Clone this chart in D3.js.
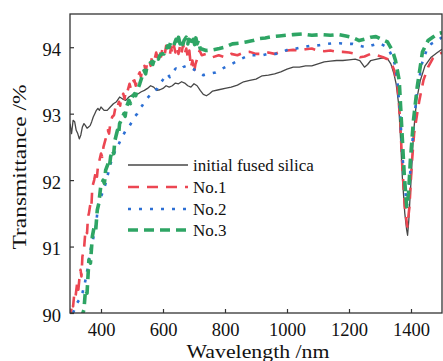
<!DOCTYPE html>
<html><head><meta charset="utf-8">
<script src="https://cdn.jsdelivr.net/npm/d3@7"></script>
<style>html,body{margin:0;padding:0;background:#fff;}svg{display:block;}</style>
</head><body><div id="chart"></div>
<script>
// ---------- data ----------
const seriesNames = ["initial fused silica", "No.1", "No.2", "No.3"];
const xTicks = [400, 600, 800, 1000, 1200, 1400];
const yTicks = [90, 91, 92, 93, 94];

const wlBase = [300,305,310,315,320,325,330,335,340,345,350,355,360,365,370,375,380,385,390,395,400,410,420,430,440,450,460,470,480,490,500,510,520,530,540,550,560,570,580,590,600,610,620,630,640,650,660,670,680,690,700,710,720,730,740,750,760,780,800,820,840,860,880,900,920,940,960,980,1000,1020,1040,1060,1080,1100,1120,1140,1160,1180,1200,1220,1235,1250,1260,1270,1290,1310,1325,1335,1345,1352,1360,1366,1372,1380,1386,1389,1393,1397,1401,1408,1418,1430,1445,1465,1485,1500];
const tBase = [92.85,92.7,92.9,92.88,92.75,92.7,92.62,92.68,92.8,92.85,92.82,92.78,92.8,92.82,92.88,92.95,93.0,93.05,93.08,93.05,93.1,93.05,93.05,93.1,93.15,93.18,93.25,93.22,93.2,93.25,93.28,93.27,93.3,93.33,93.35,93.38,93.42,93.4,93.35,93.36,93.38,93.42,93.4,93.42,93.46,93.45,93.48,93.46,93.42,93.4,93.45,93.42,93.35,93.29,93.27,93.3,93.34,93.36,93.38,93.4,93.43,93.48,93.5,93.52,93.57,93.58,93.6,93.63,93.67,93.7,93.7,93.72,93.72,93.75,93.78,93.79,93.8,93.8,93.81,93.82,93.8,93.7,93.74,93.8,93.82,93.84,93.82,93.75,93.6,93.45,93.15,92.65,92.05,91.5,91.25,91.17,91.4,91.75,92.05,92.7,93.2,93.5,93.72,93.85,93.92,93.97];

const wl1 = [302,306,310,314,318,323,327,330,334,337,340,345,350,355,358,361,366,369,372,378,384,387,390,395,400,404,408,415,422,426,430,436,442,446,450,458,462,465,472,476,480,485,492,496,500,508,512,517,525,529,533,540,545,549,556,560,565,573,578,582,590,594,598,606,610,614,622,626,630,635,640,645,650,655,660,665,670,675,680,685,690,695,700,705,710,718,725,740,760,780,800,820,840,860,880,900,920,940,960,980,1000,1020,1040,1060,1080,1100,1120,1140,1160,1180,1200,1220,1235,1250,1270,1290,1310,1325,1335,1346,1357,1365,1372,1380,1388,1395,1402,1410,1420,1427,1440,1455,1470,1485,1500];
const t1 = [89.9,90.15,90.1,90.3,90.25,90.45,90.35,90.5,90.65,90.55,90.85,90.95,91.25,91.2,91.45,91.5,91.65,91.6,91.9,92.0,92.15,92.05,92.2,92.3,92.4,92.35,92.5,92.62,92.75,92.7,92.85,92.95,92.98,93.08,93.05,93.18,93.12,93.25,93.3,93.22,93.35,93.33,93.45,93.38,93.48,93.5,93.42,93.55,93.62,93.55,93.68,93.72,93.65,93.78,93.8,93.72,93.87,93.82,93.92,93.85,93.95,93.86,93.98,93.9,94.02,93.95,93.88,94.0,93.9,94.03,93.92,94.0,93.9,94.02,93.92,94.04,93.9,93.98,93.85,93.95,93.7,93.8,93.62,93.75,93.82,93.95,93.88,93.9,93.85,93.88,93.85,93.9,93.88,93.92,93.93,93.9,93.9,93.92,93.9,93.93,93.95,93.96,93.95,93.97,93.98,93.95,93.94,93.95,93.93,93.93,93.92,93.9,93.85,93.86,93.9,93.88,93.85,93.82,93.78,93.65,93.4,92.9,92.2,91.6,91.3,91.6,92.2,92.7,93.0,93.2,93.5,93.7,93.83,93.88,93.92];

const wl2 = [310,318,323,330,340,348,356,361,366,372,378,383,388,393,400,408,415,423,431,440,447,455,463,472,480,490,500,508,517,525,533,540,549,558,566,574,582,590,598,606,614,622,630,641,653,665,675,685,695,705,717,730,749,770,792,810,835,855,878,900,921,940,965,985,1007,1030,1050,1075,1104,1130,1150,1169,1190,1212,1235,1255,1275,1298,1315,1330,1345,1355,1365,1372,1380,1387,1393,1400,1410,1420,1435,1450,1465,1485,1500];
const t2 = [90.0,90.1,90.15,90.2,90.3,90.45,90.65,90.8,90.95,91.05,91.2,91.3,91.5,91.65,91.75,91.85,91.95,92.1,92.25,92.38,92.45,92.52,92.6,92.68,92.75,92.8,92.88,92.95,93.0,93.08,93.12,93.18,93.23,93.28,93.3,93.35,93.38,93.45,93.5,93.55,93.6,93.55,93.62,93.68,93.65,93.7,93.72,93.7,93.68,93.65,93.63,93.58,93.6,93.62,93.68,93.72,93.78,93.83,93.88,93.88,93.88,93.9,93.9,93.93,93.97,93.98,94.0,94.02,94.03,94.05,94.06,94.06,94.05,94.05,94.02,94.0,94.03,94.06,94.02,93.95,93.8,93.55,93.0,92.4,91.9,91.62,91.8,92.3,92.9,93.35,93.75,93.95,94.05,94.1,94.15];

const wl3 = [335,345,350,355,361,366,372,378,383,388,393,399,407,411,415,423,427,431,437,441,445,453,457,460,467,474,478,482,490,495,500,508,512,517,525,532,539,544,548,556,563,567,571,580,585,590,597,603,607,610,615,620,625,628,635,642,646,650,655,660,664,668,675,680,683,690,694,698,702,706,710,714,720,739,760,782,800,824,845,868,890,911,930,953,975,997,1020,1050,1080,1110,1140,1165,1190,1210,1233,1250,1270,1287,1305,1324,1340,1350,1362,1370,1378,1386,1392,1398,1408,1420,1437,1455,1470,1485,1500];
const t3 = [89.9,90.05,90.35,90.3,90.8,90.75,91.15,91.3,91.25,91.55,91.65,91.9,92.0,91.95,92.15,92.25,92.2,92.35,92.45,92.4,92.6,92.75,92.7,92.85,92.92,93.0,92.96,93.1,93.2,93.15,93.25,93.3,93.27,93.35,93.45,93.55,93.65,93.6,93.7,93.75,93.78,93.74,93.8,93.85,93.82,93.88,93.9,93.9,93.96,93.95,94.02,94.0,94.08,94.05,94.03,94.12,94.06,94.15,94.05,94.12,94.04,94.1,94.15,94.05,94.12,94.1,94.02,94.12,94.04,94.14,94.05,94.1,93.98,93.95,93.96,93.98,94.0,94.05,94.06,94.08,94.1,94.13,94.14,94.16,94.17,94.18,94.19,94.2,94.18,94.19,94.18,94.19,94.17,94.15,94.1,94.12,94.15,94.16,94.12,94.08,93.95,93.8,93.5,92.8,92.1,91.6,91.8,92.3,92.9,93.4,93.93,94.1,94.15,94.2,94.22];

// ---------- layout ----------
const W = 443, H = 361;
const m = {left: 70, right: 1, top: 14, bottom: 48};
const iw = W - m.left - m.right, ih = H - m.top - m.bottom;

const svg = d3.select("#chart").append("svg").attr("width", W).attr("height", H);
const x = d3.scaleLinear().domain([300, 1500]).range([m.left, m.left + iw]);
const y = d3.scaleLinear().domain([90, 94.5]).range([m.top + ih, m.top]);

svg.append("defs").append("clipPath").attr("id", "clip")
  .append("rect").attr("x", m.left).attr("y", m.top).attr("width", iw).attr("height", ih);

const styles = [
  {color: "#474747", width: 1.3, dash: null},
  {color: "#ec4652", width: 2.6, dash: "11,8"},
  {color: "#2c6fd4", width: 2.6, dash: "3,8"},
  {color: "#2ea564", width: 3.6, dash: "10,6"}
];
const data = [
  d3.zip(wlBase, tBase), d3.zip(wl1, t1), d3.zip(wl2, t2), d3.zip(wl3, t3)
];
const line = d3.line().x(d => x(d[0])).y(d => y(d[1]));

const g = svg.append("g").attr("clip-path", "url(#clip)");
[0,1,2,3].forEach(i => {
  g.append("path").datum(data[i])
    .attr("fill", "none").attr("stroke", styles[i].color)
    .attr("stroke-width", styles[i].width)
    .attr("stroke-dasharray", styles[i].dash)
    .attr("stroke-linejoin", "round")
    .attr("d", line);
});

// axes
const font = "'Liberation Serif', 'Times New Roman', serif";
const xAxis = svg.append("g").attr("transform", `translate(0,${m.top + ih})`)
  .call(d3.axisBottom(x).tickValues(xTicks).tickFormat(d3.format("d")).tickSizeInner(-4).tickSizeOuter(0).tickPadding(10));
const yAxis = svg.append("g").attr("transform", `translate(${m.left},0)`)
  .call(d3.axisLeft(y).tickValues(yTicks).tickFormat(d3.format("d")).tickSizeInner(-4).tickSizeOuter(0).tickPadding(9));
[xAxis, yAxis].forEach(a => {
  a.attr("font-family", null).attr("font-size", null);
  a.select(".domain").remove();
  a.selectAll("line").attr("stroke", "#333").attr("stroke-width", 1.2);
  a.selectAll("text").attr("font-family", font).attr("font-size", 18.5).attr("fill", "#111");
});
yAxis.selectAll("text").attr("dy", "0.45em");
xAxis.selectAll("text").attr("dy", "0.7em");

// frame
svg.append("rect").attr("x", m.left).attr("y", m.top).attr("width", iw).attr("height", ih)
  .attr("fill", "none").attr("stroke", "#333").attr("stroke-width", 1.3);

// axis titles
svg.append("text").attr("x", 258).attr("y", 357.5).attr("text-anchor", "middle")
  .attr("font-family", font).attr("font-size", 18.5).attr("fill", "#111")
  .attr("textLength", 143).attr("lengthAdjust", "spacingAndGlyphs").text("Wavelength /nm");
svg.append("text").attr("transform", "translate(26,167) rotate(-90)").attr("text-anchor", "middle")
  .attr("font-family", font).attr("font-size", 18.5).attr("fill", "#111")
  .attr("textLength", 165).attr("lengthAdjust", "spacingAndGlyphs").text("Transmittance /%");

// legend
const lg = svg.append("g");
const rowY = [165, 187, 209, 230];
seriesNames.forEach((name, i) => {
  lg.append("line").attr("x1", 128).attr("x2", 188).attr("y1", rowY[i]).attr("y2", rowY[i])
    .attr("stroke", styles[i].color).attr("stroke-width", styles[i].width)
    .attr("stroke-dasharray", styles[i].dash);
  lg.append("text").attr("x", 193).attr("y", rowY[i]).attr("dy", "0.35em")
    .attr("font-family", font).attr("font-size", 17).attr("fill", "#111").text(name);
});
</script></body></html>
